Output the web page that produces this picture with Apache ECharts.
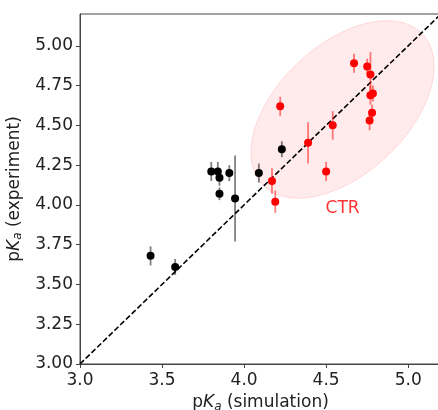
<!DOCTYPE html>
<html>
<head>
<meta charset="utf-8">
<script src="https://cdn.jsdelivr.net/npm/echarts@6/dist/echarts.min.js"></script>
<style>
  html, body { margin: 0; padding: 0; background: #fff; }
  #main { width: 438px; height: 410px; }
</style>
</head>
<body>
<div id="main"></div>
<script>
// black points (other residues): simulation, experiment, error
var blackSim = [3.43, 3.58, 3.80, 3.84, 3.85, 3.85, 3.91, 3.945, 4.09, 4.23];
var blackExp = [3.68, 3.61, 4.21, 4.21, 4.17, 4.07, 4.20, 4.04, 4.20, 4.35];
var blackErr = [0.06, 0.05, 0.06, 0.06, 0.05, 0.04, 0.05, 0.27, 0.06, 0.05];

// red points (CTR)
var redSim = [4.17, 4.19, 4.22, 4.39, 4.50, 4.54, 4.67, 4.75, 4.77, 4.77, 4.785, 4.78, 4.765];
var redExp = [4.15, 4.02, 4.62, 4.39, 4.21, 4.50, 4.89, 4.87, 4.82, 4.69, 4.70, 4.58, 4.53];
var redErr = [0.08, 0.07, 0.06, 0.13, 0.06, 0.09, 0.06, 0.05, 0.14, 0.06, 0.05, 0.05, 0.06];

var xTicks = [3.0, 3.5, 4.0, 4.5, 5.0];
var yTicks = [3.00, 3.25, 3.50, 3.75, 4.00, 4.25, 4.50, 4.75, 5.00];

// CTR ellipse: centre (data), semi axes (data), angle in degrees
var ctrEllipse = [4.6, 4.6, 0.68, 0.40, 45];
var ctrLabel = [4.6, 3.98];

var FONT = 'DejaVu Sans';

function pairs(xs, ys, es) {
    return xs.map(function (x, i) { return es ? [x, ys[i], es[i]] : [x, ys[i]]; });
}

function errorBar(color) {
    return function (params, api) {
        var lo = api.coord([api.value(0), api.value(1) - api.value(2)]);
        var hi = api.coord([api.value(0), api.value(1) + api.value(2)]);
        return {
            type: 'line',
            shape: { x1: lo[0], y1: lo[1], x2: hi[0], y2: hi[1] },
            style: { stroke: color, lineWidth: 1.8 }
        };
    };
}

var nameRich = {
    n: { fontFamily: FONT, fontSize: 17, color: '#222', verticalAlign: 'middle', lineHeight: 20 },
    k: { fontFamily: FONT, fontSize: 17, fontStyle: 'italic', color: '#222', verticalAlign: 'middle', lineHeight: 20 },
    s: { fontFamily: FONT, fontSize: 12, fontStyle: 'italic', color: '#222', verticalAlign: 'bottom', lineHeight: 8 }
};

var myChart = echarts.init(document.getElementById('main'));

var option = {
    animation: false,
    backgroundColor: '#fff',
    grid: {
        left: 80, top: 14, width: 361, height: 350,
        outerBoundsMode: 'none',
        containLabel: false,
        show: true, borderColor: '#444', borderWidth: 1
    },
    xAxis: {
        type: 'value', min: 3, max: 5.2,
        name: '{n|p}{k|K}{s|a}{n| (simulation)}',
        nameLocation: 'middle', nameGap: 28,
        nameTextStyle: { rich: nameRich },
        axisLine: { onZero: false, lineStyle: { color: '#444', width: 1 } },
        axisTick: { show: true, length: 4, lineStyle: { color: '#444' }, customValues: xTicks },
        axisLabel: {
            fontFamily: FONT, fontSize: 17, color: '#222', margin: 8,
            customValues: xTicks,
            formatter: function (v) { return v.toFixed(1); }
        },
        splitLine: { show: false }
    },
    yAxis: {
        type: 'value', min: 3, max: 5.2,
        name: '{n|p}{k|K}{s|a}{n| (experiment)}',
        nameLocation: 'middle', nameGap: 45, nameRotate: 90,
        nameTextStyle: { rich: nameRich },
        axisLine: { onZero: false, lineStyle: { color: '#444', width: 1 } },
        axisTick: { show: true, length: 4, lineStyle: { color: '#444' }, customValues: yTicks },
        axisLabel: {
            fontFamily: FONT, fontSize: 17, color: '#222', margin: 7,
            customValues: yTicks,
            formatter: function (v) { return v.toFixed(2); }
        },
        splitLine: { show: false }
    },
    series: [
        {
            // CTR ellipse
            type: 'custom',
            z: 1,
            silent: true,
            data: [ctrEllipse],
            renderItem: function (params, api) {
                var cx = api.value(0), cy = api.value(1);
                var a = api.value(2), b = api.value(3);
                var t = api.value(4) * Math.PI / 180;
                var pts = [];
                for (var i = 0; i < 120; i++) {
                    var ang = i / 120 * Math.PI * 2;
                    var u = a * Math.cos(ang), w = b * Math.sin(ang);
                    pts.push(api.coord([
                        cx + u * Math.cos(t) - w * Math.sin(t),
                        cy + u * Math.sin(t) + w * Math.cos(t)
                    ]));
                }
                return {
                    type: 'polygon',
                    shape: { points: pts },
                    style: { fill: 'rgba(255,0,0,0.08)', stroke: 'rgba(255,0,0,0.12)', lineWidth: 1 }
                };
            }
        },
        {
            type: 'line',
            z: 2,
            data: [[3, 3], [5.2, 5.2]],
            symbol: 'none',
            silent: true,
            lineStyle: { color: '#000', width: 1.6, type: [5.5, 2.5] }
        },
        {
            type: 'custom',
            z: 3,
            data: pairs(blackSim, blackExp, blackErr),
            renderItem: errorBar('rgba(0,0,0,0.5)')
        },
        {
            type: 'custom',
            z: 3,
            data: pairs(redSim, redExp, redErr),
            renderItem: errorBar('rgba(255,0,0,0.5)')
        },
        {
            type: 'scatter',
            z: 4,
            data: pairs(blackSim, blackExp),
            symbol: 'circle',
            symbolSize: 8,
            itemStyle: { color: '#000', opacity: 1 }
        },
        {
            type: 'scatter',
            z: 4,
            data: pairs(redSim, redExp),
            symbol: 'circle',
            symbolSize: 8,
            itemStyle: { color: '#ff0000', opacity: 1 }
        },
        {
            type: 'scatter',
            z: 5,
            data: [ctrLabel],
            symbolSize: 0,
            silent: true,
            label: {
                show: true, position: 'inside', formatter: 'CTR',
                fontFamily: FONT, fontSize: 17, color: '#ff0000'
            }
        }
    ]
};

myChart.setOption(option);
</script>
</body>
</html>
